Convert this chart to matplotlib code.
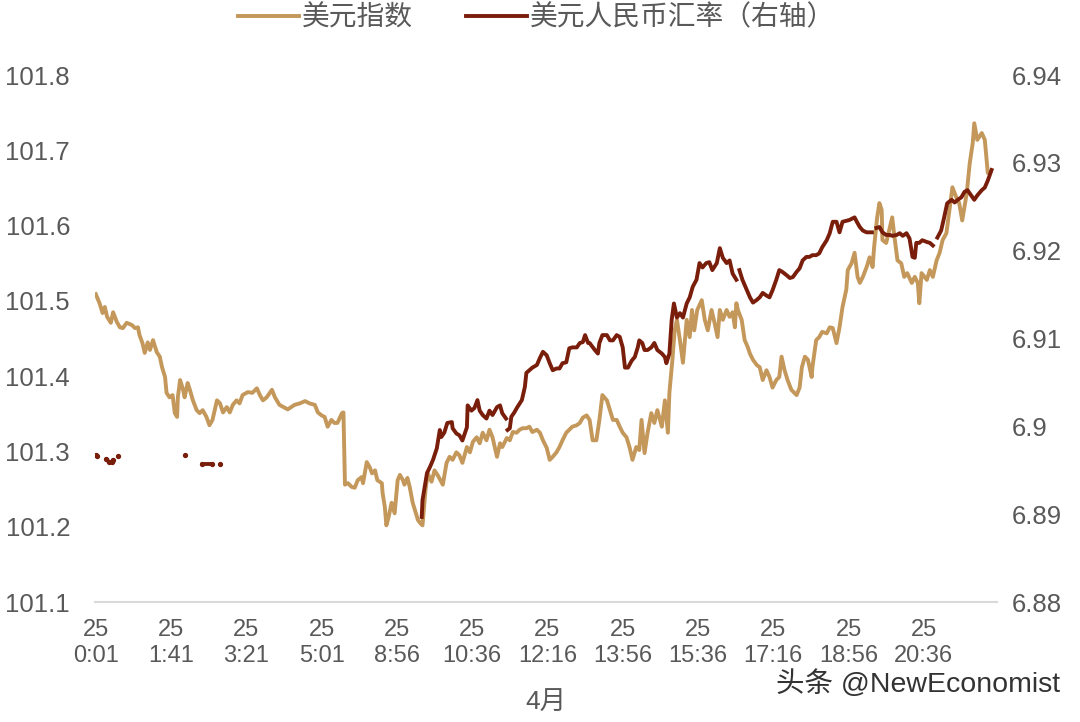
import numpy as np
import matplotlib
matplotlib.use("Agg")
import matplotlib.pyplot as plt

plt.rcParams['font.family'] = ['Liberation Sans', 'Noto Sans CJK SC', 'DejaVu Sans']

# x 轴: 分钟序号, 每 100 个点一个刻度
tick_pos = [0, 100, 200, 300, 400, 500, 600, 700, 800, 900, 1000, 1100]
tick_labels = ["25\n0:01", "25\n1:41", "25\n3:21", "25\n5:01", "25\n8:56", "25\n10:36",
               "25\n12:16", "25\n13:56", "25\n15:36", "25\n17:16", "25\n18:56", "25\n20:36"]

# 美元指数 (左轴)
dxy_x = [0, 5, 9, 12, 15, 20, 23, 28, 32, 36, 41, 48, 52, 56, 58, 62, 65, 69, 72, 76,
         81, 85, 88, 92, 94, 98, 102, 105, 108, 109, 112, 116, 118, 122, 125, 129, 134, 138, 142, 147,
         151, 155, 161, 165, 169, 174, 178, 182, 187, 191, 195, 202, 208, 214, 218, 222, 227, 234, 238, 244,
         255, 264, 271, 278, 284, 291, 295, 300, 304, 308, 313, 317, 321, 327, 329, 331, 335, 340, 344, 348,
         353, 355, 360, 364, 367, 371, 374, 380, 381, 384, 386, 389, 393, 397, 401, 404, 408, 410, 414, 417,
         421, 424, 428, 431, 434, 438, 441, 446, 450, 454, 461, 466, 470, 474, 479, 483, 487, 493, 497, 501,
         506, 510, 514, 519, 523, 527, 530, 533, 537, 540, 546, 550, 554, 559, 563, 567, 572, 576, 580, 586,
         590, 594, 599, 603, 607, 612, 616, 620, 625, 629, 633, 639, 643, 647, 652, 656, 660, 665, 669, 673,
         679, 683, 687, 692, 696, 700, 705, 709, 713, 718, 722, 725, 729, 733, 738, 742, 746, 752, 756, 760,
         762, 766, 769, 772, 776, 780, 785, 789, 792, 795, 799, 805, 809, 813, 818, 822, 826, 829, 833, 838,
         842, 846, 849, 851, 853, 858, 862, 866, 869, 873, 878, 882, 886, 891, 895, 899, 904, 908, 911, 915,
         919, 924, 931, 935, 938, 942, 946, 951, 952, 957, 961, 965, 971, 975, 979, 984, 988, 992, 997, 999,
         1004, 1008, 1012, 1015, 1019, 1024, 1028, 1032, 1034, 1038, 1041, 1044, 1045, 1050, 1055, 1058, 1061, 1065, 1070, 1074,
         1078, 1084, 1088, 1092, 1094, 1097, 1104, 1108, 1112, 1117, 1121, 1125, 1130, 1134, 1138, 1143, 1147, 1151, 1157, 1161,
         1165, 1167, 1171, 1177, 1181, 1185, 1187]
dxy_y = [101.509, 101.497, 101.484, 101.492, 101.479, 101.471, 101.485, 101.472, 101.465, 101.464,
         101.471, 101.468, 101.464, 101.465, 101.455, 101.444, 101.431, 101.445, 101.435, 101.448,
         101.432, 101.426, 101.412, 101.399, 101.378, 101.372, 101.375, 101.351, 101.346, 101.372,
         101.395, 101.382, 101.372, 101.391, 101.382, 101.368, 101.355, 101.351, 101.355, 101.346,
         101.335, 101.342, 101.368, 101.364, 101.352, 101.359, 101.352, 101.362, 101.368, 101.364,
         101.375, 101.379, 101.378, 101.384, 101.375, 101.368, 101.372, 101.382, 101.372, 101.362,
         101.356, 101.362, 101.364, 101.367, 101.364, 101.362, 101.352, 101.348, 101.346, 101.333,
         101.342, 101.338, 101.338, 101.351, 101.352, 101.256, 101.258, 101.253, 101.252, 101.262,
         101.266, 101.258, 101.286, 101.279, 101.271, 101.275, 101.262, 101.258, 101.245, 101.226,
         101.202, 101.213, 101.232, 101.218, 101.262, 101.269, 101.262, 101.256, 101.265, 101.253,
         101.232, 101.222, 101.209, 101.205, 101.202, 101.249, 101.271, 101.260, 101.275, 101.269,
         101.256, 101.285, 101.293, 101.289, 101.299, 101.295, 101.285, 101.306, 101.299, 101.313,
         101.319, 101.311, 101.325, 101.315, 101.329, 101.319, 101.306, 101.293, 101.311, 101.306,
         101.318, 101.315, 101.326, 101.325, 101.329, 101.331, 101.331, 101.333, 101.326, 101.329,
         101.325, 101.315, 101.305, 101.289, 101.293, 101.299, 101.306, 101.315, 101.325, 101.329,
         101.333, 101.335, 101.338, 101.345, 101.348, 101.342, 101.315, 101.315, 101.342, 101.375,
         101.368, 101.355, 101.342, 101.342, 101.333, 101.325, 101.319, 101.306, 101.289, 101.306,
         101.302, 101.342, 101.298, 101.325, 101.351, 101.338, 101.355, 101.333, 101.368, 101.325,
         101.378, 101.422, 101.461, 101.475, 101.448, 101.418, 101.475, 101.452, 101.488, 101.461,
         101.488, 101.501, 101.475, 101.461, 101.488, 101.471, 101.452, 101.488, 101.475, 101.488,
         101.479, 101.485, 101.465, 101.497, 101.488, 101.475, 101.448, 101.439, 101.430, 101.422,
         101.415, 101.412, 101.395, 101.408, 101.399, 101.385, 101.395, 101.399, 101.426, 101.408,
         101.395, 101.382, 101.375, 101.385, 101.412, 101.426, 101.422, 101.399, 101.412, 101.448,
         101.452, 101.459, 101.457, 101.465, 101.464, 101.444, 101.465, 101.492, 101.515, 101.541,
         101.550, 101.564, 101.532, 101.524, 101.532, 101.545, 101.558, 101.545, 101.572, 101.611,
         101.630, 101.621, 101.581, 101.577, 101.598, 101.611, 101.585, 101.554, 101.550, 101.532,
         101.537, 101.524, 101.532, 101.524, 101.497, 101.537, 101.528, 101.541, 101.532, 101.554,
         101.564, 101.581, 101.590, 101.621, 101.651, 101.638, 101.630, 101.607, 101.643, 101.683,
         101.710, 101.736, 101.714, 101.723, 101.714, 101.670, 101.671]

# 美元人民币汇率 (右轴), nan 为断点
cny_x = [433, 434, 440, 444, 448, 453, 457, 459, 463, 467, 473, 474, 479, 483, 487, 493, 494, 499, 503, 507,
         510, 514, 519, 523, 527, 533, 537, 540, 545, 546, 547, 550, 552, 556, 560, 566, 570, 572, 576, 580,
         586, 590, 594, 599, 603, 607, 612, 616, 620, 625, 629, 633, 639, 643, 647, 650, 654, 656, 663, 667,
         669, 673, 679, 683, 687, 692, 696, 700, 703, 707, 712, 716, 720, 722, 726, 729, 733, 738, 742, 746,
         752, 756, 758, 762, 765, 768, 772, 776, 780, 785, 789, 793, 798, 802, 806, 811, 815, 819, 825, 829,
         833, 838, 842, 846, 851, 853, 855, 859, 865, 869, 873, 878, 882, 886, 891, 895, 899, 904, 908, 912,
         918, 922, 926, 931, 935, 939, 944, 948, 952, 957, 961, 965, 971, 975, 979, 984, 988, 992, 1001, 1008,
         1011, 1015, 1019, 1024, 1031, 1034, 1037, 1041, 1045, 1050, 1055, 1058, 1064, 1068, 1072, 1077, 1081, 1085, 1088, 1090,
         1094, 1098, 1104, 1108, 1112, 1115, 1118, 1123, 1127, 1131, 1137, 1141, 1145, 1150, 1154, 1158, 1163, 1167, 1171, 1177,
         1181, 1185, 1190]
cny_y = [6.8897, 6.8916, 6.8947, 6.8954, 6.8962, 6.8975, 6.8996, 6.8988, 6.8993, 6.9004,
         6.9005, 6.8998, 6.8992, 6.8990, 6.8984, 6.8999, 6.9024, 6.9018, 6.9021, 6.9030,
         6.9018, 6.9013, 6.9009, 6.9018, 6.9013, 6.9022, 6.9024, 6.9015, 6.9009, np.nan,
         6.8996, 6.8998, 6.9011, 6.9016, 6.9022, 6.9030, 6.9045, 6.9061, 6.9064, 6.9067,
         6.9070, 6.9078, 6.9085, 6.9081, 6.9072, 6.9064, 6.9066, 6.9066, 6.9072, 6.9073,
         6.9089, 6.9090, 6.9090, 6.9095, 6.9096, 6.9104, 6.9095, 6.9095, 6.9087, 6.9083,
         6.9095, 6.9104, 6.9104, 6.9098, 6.9098, 6.9104, 6.9102, 6.9090, 6.9067, 6.9067,
         6.9075, 6.9079, 6.9090, 6.9098, 6.9095, 6.9087, 6.9087, 6.9090, 6.9095, 6.9087,
         6.9083, 6.9079, 6.9072, 6.9083, 6.9121, 6.9140, 6.9124, 6.9129, 6.9124, 6.9140,
         6.9147, 6.9159, 6.9167, 6.9186, 6.9181, 6.9186, 6.9187, 6.9178, 6.9186, 6.9203,
         6.9192, 6.9186, 6.9189, 6.9174, 6.9167, np.nan, 6.9178, 6.9167, 6.9155, 6.9147,
         6.9141, 6.9144, 6.9147, 6.9152, 6.9149, 6.9147, 6.9155, 6.9167, 6.9178, 6.9176,
         6.9172, 6.9169, 6.9170, 6.9176, 6.9180, 6.9189, 6.9193, 6.9193, 6.9195, 6.9195,
         6.9197, 6.9204, 6.9212, 6.9220, 6.9233, 6.9233, 6.9221, 6.9233, 6.9235, 6.9238,
         6.9233, 6.9227, 6.9223, 6.9221, 6.9221, np.nan, 6.9226, 6.9227, 6.9221, 6.9218,
         6.9218, 6.9217, 6.9218, 6.9220, 6.9217, 6.9220, 6.9214, 6.9193, 6.9192, 6.9209,
         6.9209, 6.9212, 6.9210, 6.9209, 6.9206, np.nan, 6.9215, 6.9223, 6.9238, 6.9254,
         6.9258, 6.9255, 6.9258, 6.9261, 6.9267, 6.9269, 6.9263, 6.9258, 6.9263, 6.9269,
         6.9272, 6.9280, 6.9292]

# 凌晨零星成交点
cny_early_x = [0, 2, 14, 17, 21, 23, 29, 118, 141, 154, 165]
cny_early_y = [6.8967, 6.8966, 6.8963, 6.8960, 6.8959, 6.8962, 6.8966, 6.8967, 6.8957, 6.8957, 6.8957]
cny_early_grp = [0, 0, 1, 1, 1, 1, 2, 3, 4, 4, 5]

gold = "#C4975A"
dark = "#7A1E0C"
grey = "#595959"

fig = plt.figure(figsize=(10.8, 7.22), dpi=100)
ax = fig.add_axes([0.088, 0.166, 0.835, 0.73])
ax2 = ax.twinx()

l1, = ax.plot(dxy_x, dxy_y, color=gold, lw=2.8, label="美元指数")
l2, = ax2.plot(cny_x, cny_y, color=dark, lw=2.8, label="美元人民币汇率（右轴）")
for g in sorted(set(cny_early_grp)):
    xs = [x for x, k in zip(cny_early_x, cny_early_grp) if k == g]
    ys = [y for y, k in zip(cny_early_y, cny_early_grp) if k == g]
    ax2.plot(xs, ys, color=dark, lw=2.8, marker='o', ms=2.8, solid_capstyle='round')

ax.set_xlim(-1, 1197)
ax.set_ylim(101.1, 101.8)
ax2.set_ylim(6.88, 6.94)
ax.set_yticks([101.1, 101.2, 101.3, 101.4, 101.5, 101.6, 101.7, 101.8])
ax.set_yticklabels(["101.1", "101.2", "101.3", "101.4", "101.5", "101.6", "101.7", "101.8"])
ax2.set_yticks([6.88, 6.89, 6.9, 6.91, 6.92, 6.93, 6.94])
ax2.set_yticklabels(["6.88", "6.89", "6.9", "6.91", "6.92", "6.93", "6.94"])
ax.set_xticks(tick_pos)
ax.set_xticklabels(tick_labels, linespacing=1.25)

ax.tick_params(axis='y', length=0, pad=18, labelsize=18.5, labelcolor=grey)
ax2.tick_params(axis='y', length=0, pad=11, labelsize=18.5, labelcolor=grey)
ax.tick_params(axis='x', length=0, pad=12, labelsize=17, labelcolor=grey)

for a in (ax, ax2):
    for s in ['top', 'left', 'right', 'bottom']:
        a.spines[s].set_visible(False)
ax.spines['bottom'].set_visible(True)
ax.spines['bottom'].set_color("#D9D9D9")
ax.spines['bottom'].set_linewidth(1.5)

fig.legend(handles=[l1, l2], loc='upper center', bbox_to_anchor=(0.497, 1.028), ncol=2,
           frameon=False, fontsize=20, handlelength=2.2, handletextpad=0.1,
           columnspacing=1.9, labelcolor=grey)

fig.text(0.505, 0.027, "4月", ha='center', va='center', fontsize=19, color=grey)
fig.text(0.982, 0.052, "头条 @NewEconomist", ha='right', va='center', fontsize=20.5,
         color="#333333", fontweight='medium')

fig.savefig("out.png", dpi=100)
